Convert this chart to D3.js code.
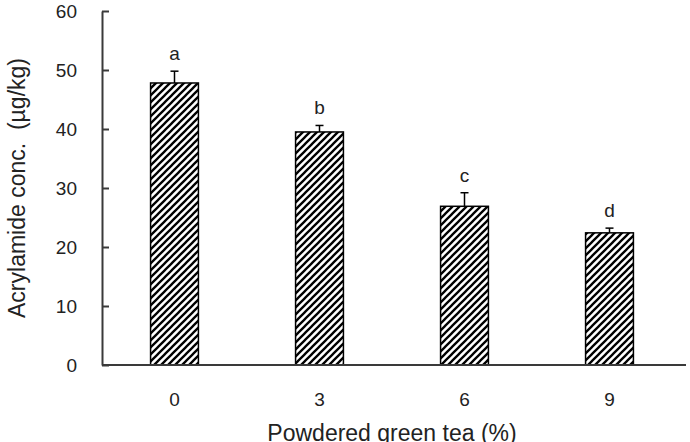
<!DOCTYPE html>
<html>
<head>
<meta charset="utf-8">
<script src="https://d3js.org/d3.v7.min.js"></script>
<style>
  body { margin: 0; background: #fff; }
  svg { font-family: "Liberation Sans", Arial, sans-serif; }
  .axis path, .axis line { stroke: #3a3a3a; stroke-width: 2; }
</style>
</head>
<body>
<script>
  var categories = ["0", "3", "6", "9"];
  var means = [47.8, 39.5, 26.9, 22.4];
  var errors = [2.0, 1.1, 2.3, 0.8];
  var letters = ["a", "b", "c", "d"];
  var yTicks = [0, 10, 20, 30, 40, 50, 60];

  var W = 690, H = 442;
  var margin = {top: 11, right: 4, bottom: 77, left: 102};
  var width = W - margin.left - margin.right,
      height = H - margin.top - margin.bottom;

  var svg = d3.select("body").append("svg")
      .attr("width", W)
      .attr("height", H);

  // diagonal hatch
  var defs = svg.append("defs");
  defs.append("pattern")
      .attr("id", "hatch")
      .attr("patternUnits", "userSpaceOnUse")
      .attr("width", 7)
      .attr("height", 7)
    .append("path")
      .attr("d", "M-1,1 L1,-1 M0,7 L7,0 M6,8 L8,6")
      .attr("stroke", "#000")
      .attr("stroke-width", 2.3);

  var g = svg.append("g")
      .attr("transform", "translate(" + margin.left + "," + margin.top + ")");

  var x = d3.scaleBand().domain(categories).range([0, 580]).paddingInner(0.67).paddingOuter(0.335);
  var y = d3.scaleLinear().domain([0, 60]).range([height, 0]);

  // y axis, ticks point inward
  g.append("g")
      .attr("class", "axis")
      .call(d3.axisRight(y).tickValues(yTicks).tickSize(7).tickSizeOuter(0))
      .call(function(a) {
        a.selectAll("text")
          .attr("x", -25)
          .attr("text-anchor", "end")
          .attr("font-size", "19px")
          .attr("fill", "#222");
      });

  // bars
  g.selectAll(".bar")
      .data(means)
    .enter().append("rect")
      .attr("class", "bar")
      .attr("x", function(d, i) { return x(categories[i]); })
      .attr("y", function(d) { return y(d); })
      .attr("width", x.bandwidth())
      .attr("height", function(d) { return height - y(d); })
      .attr("fill", "url(#hatch)")
      .attr("stroke", "#000")
      .attr("stroke-width", 1.5);

  // error bars (upper only)
  var eb = g.selectAll(".err")
      .data(means)
    .enter().append("g")
      .attr("class", "err")
      .attr("stroke", "#000")
      .attr("stroke-width", 1.5);
  eb.append("line")
      .attr("x1", function(d, i) { return x(categories[i]) + x.bandwidth() / 2; })
      .attr("x2", function(d, i) { return x(categories[i]) + x.bandwidth() / 2; })
      .attr("y1", function(d) { return y(d); })
      .attr("y2", function(d, i) { return y(d + errors[i]); });
  eb.append("line")
      .attr("x1", function(d, i) { return x(categories[i]) + x.bandwidth() / 2 - 4; })
      .attr("x2", function(d, i) { return x(categories[i]) + x.bandwidth() / 2 + 4; })
      .attr("y1", function(d, i) { return y(d + errors[i]); })
      .attr("y2", function(d, i) { return y(d + errors[i]); });

  // significance letters
  g.selectAll(".letter")
      .data(means)
    .enter().append("text")
      .attr("class", "letter")
      .attr("x", function(d, i) { return x(categories[i]) + x.bandwidth() / 2; })
      .attr("y", function(d, i) { return y(d + errors[i]) - 11; })
      .attr("text-anchor", "middle")
      .attr("font-size", "19px")
      .attr("fill", "#222")
      .text(function(d, i) { return letters[i]; });

  // x axis (no ticks)
  g.append("g")
      .attr("class", "axis")
      .attr("transform", "translate(0," + height + ")")
      .call(d3.axisBottom(x).tickSize(0).tickSizeOuter(0))
      .call(function(a) {
        a.select(".domain").attr("d", "M0,0H584");
        a.selectAll("text")
          .attr("y", 41)
          .attr("dy", 0)
          .attr("font-size", "19px")
          .attr("fill", "#222");
      });

  // axis titles
  g.append("text")
      .attr("x", 290)
      .attr("y", height + 76)
      .attr("text-anchor", "middle")
      .attr("font-size", "23px")
      .attr("fill", "#222")
      .text("Powdered green tea (%)");

  g.append("text")
      .attr("transform", "translate(" + (25 - margin.left) + "," + (188 - margin.top) + ") rotate(-90)")
      .attr("text-anchor", "middle")
      .attr("font-size", "23px")
      .attr("fill", "#222")
      .text("Acrylamide conc.  (µg/kg)")
      .style("white-space", "pre");
</script>
</body>
</html>
